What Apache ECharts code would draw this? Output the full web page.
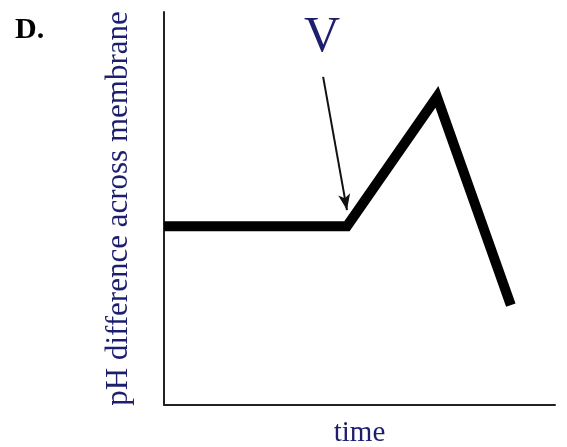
<!DOCTYPE html>
<html>
<head>
<meta charset="utf-8">
<script src="https://cdn.jsdelivr.net/npm/echarts@6/dist/echarts.min.js"></script>
<style>html,body{margin:0;padding:0;background:#fff}#c{width:567px;height:447px}</style>
</head>
<body>
<div id="c"></div>
<script>
// data
const timeValues = [0, 46.8, 69.8, 88.7];
const phValues = [45.5, 45.5, 78.4, 25.4];
const arrowStart = [40.7, 83.5];
const arrowEnd = [46.8, 49.6];
const markerLabelPos = [40.4, 93.5];
const markerLabel = 'V';
const panelLabel = 'D.';
const xName = 'time';
const yName = 'pH difference across membrane';

const navy = '#1e1e6e';
const serif = '"Liberation Serif", "DejaVu Serif", serif';

const chart = echarts.init(document.getElementById('c'));
chart.setOption({
  animation: false,
  grid: { left: 164, right: 12, top: 12, bottom: 42, outerBoundsMode: 'none', containLabel: false },
  xAxis: {
    type: 'value', min: 0, max: 100,
    name: xName, nameLocation: 'middle', nameGap: 14,
    nameTextStyle: { color: navy, fontSize: 29, fontFamily: serif },
    axisLine: { show: true, onZero: false, lineStyle: { color: '#222', width: 2 } },
    axisTick: { show: false }, axisLabel: { show: false }, splitLine: { show: false }
  },
  yAxis: {
    type: 'value', min: 0, max: 100,
    name: yName, nameLocation: 'middle', nameGap: 30,
    nameTextStyle: { color: navy, fontSize: 31, fontFamily: serif },
    axisLine: { show: true, onZero: false, lineStyle: { color: '#222', width: 2 } },
    axisTick: { show: false }, axisLabel: { show: false }, splitLine: { show: false }
  },
  graphic: [{
    type: 'text', left: 15, top: 15,
    style: { text: panelLabel, font: 'bold 30px ' + serif, fill: '#000' }
  }],
  series: [{
    type: 'line',
    data: timeValues.map((t, i) => [t, phValues[i]]),
    symbol: 'none',
    lineStyle: { color: '#000', width: 10, cap: 'butt', join: 'miter' },
    markLine: {
      silent: true,
      symbol: ['none', 'arrow'],
      symbolSize: [9, 16],
      lineStyle: { color: '#111', width: 2, type: 'solid' },
      label: { show: false },
      data: [[{ coord: arrowStart }, { coord: arrowEnd }]]
    },
    markPoint: {
      silent: true,
      symbol: 'circle', symbolSize: 1,
      itemStyle: { color: 'rgba(0,0,0,0)' },
      label: { show: true, position: 'inside', formatter: markerLabel, color: navy, fontSize: 50, fontFamily: serif },
      data: [{ coord: markerLabelPos }]
    }
  }]
});
</script>
</body>
</html>
